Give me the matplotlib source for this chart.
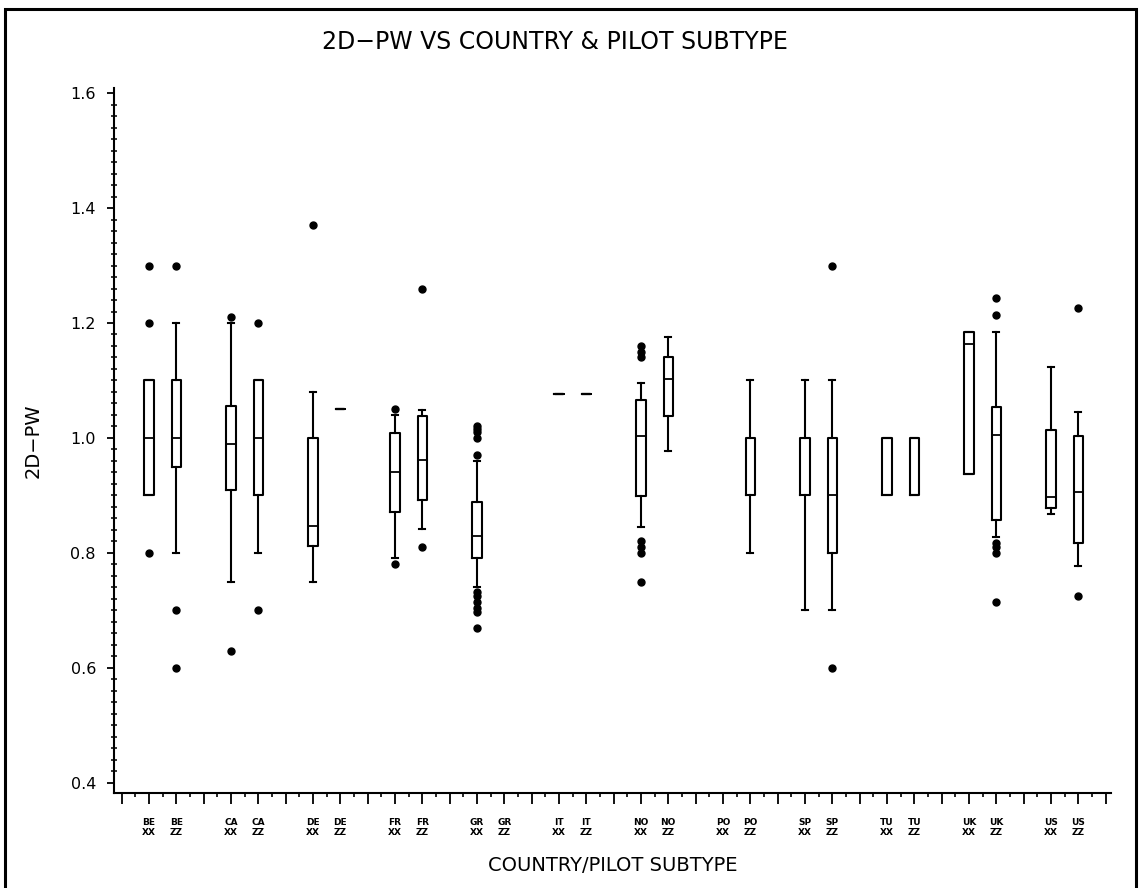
import matplotlib
matplotlib.use('Agg')
import matplotlib.pyplot as plt
from matplotlib.patches import Rectangle

# groups: country x pilot subtype
countries = ['BE', 'CA', 'DE', 'FR', 'GR', 'IT', 'NO', 'PO', 'SP', 'TU', 'UK', 'US']
subtypes = ['XX', 'ZZ']

# box statistics (None = no data for that group), order: BE XX, BE ZZ, CA XX, ...
whislo = [0.90, 0.80, 0.75, 0.80, 0.75, 1.05, 0.792, 0.842, 0.74, None, 1.077, 1.077,
          0.845, 0.978, None, 0.80, 0.70, 0.70, 0.90, 0.90, 0.937, 0.827, 0.867, 0.777]
q1 = [0.90, 0.95, 0.91, 0.90, 0.812, 1.05, 0.871, 0.892, 0.791, None, 1.077, 1.077,
      0.899, 1.038, None, 0.90, 0.90, 0.80, 0.90, 0.90, 0.937, 0.857, 0.878, 0.817]
med = [1.00, 1.00, 0.99, 1.00, 0.847, 1.05, 0.94, 0.961, 0.83, None, 1.077, 1.077,
       1.003, 1.102, None, 0.90, 0.90, 0.90, 0.90, 0.90, 1.163, 1.006, 0.897, 0.906]
q3 = [1.10, 1.10, 1.055, 1.10, 1.00, 1.05, 1.009, 1.038, 0.889, None, 1.077, 1.077,
      1.066, 1.14, None, 1.00, 1.00, 1.00, 1.00, 1.00, 1.185, 1.054, 1.014, 1.004]
whishi = [1.10, 1.20, 1.20, 1.10, 1.08, 1.05, 1.04, 1.049, 0.96, None, 1.077, 1.077,
          1.096, 1.176, None, 1.10, 1.10, 1.10, 1.00, 1.00, 1.185, 1.185, 1.124, 1.045]
fliers = [[1.3, 1.2, 0.8], [1.3, 0.7, 0.6], [1.21, 0.63], [1.2, 0.7], [1.37], [],
          [1.05, 0.78], [1.26, 0.81],
          [1.02, 1.015, 1.01, 1.0, 0.97, 0.733, 0.725, 0.715, 0.705, 0.698, 0.67], None,
          [], [], [1.16, 1.15, 1.14, 0.82, 0.81, 0.80, 0.75], [], None, [],
          [], [1.3, 0.6], [], [], [], [1.244, 1.214, 0.818, 0.81, 0.80, 0.715],
          [], [1.226, 0.726]]

# build stats for bxp, slots: XX at 3k+1, ZZ at 3k+2
stats = []
positions = []
tick_labels = [''] * 37
for k, c in enumerate(countries):
    for j, s in enumerate(subtypes):
        i = 2 * k + j
        slot = 3 * k + 1 + j
        tick_labels[slot] = c + '\n' + s
        if med[i] is None:
            continue
        stats.append(dict(whislo=whislo[i], q1=q1[i], med=med[i], q3=q3[i],
                          whishi=whishi[i], fliers=fliers[i]))
        positions.append(slot)

fig = plt.figure(figsize=(11.39, 8.88), dpi=100)
ax = fig.add_axes([114 / 1139, 1 - 793 / 888, (1111 - 114) / 1139, (793 - 88) / 888])

line = dict(color='black', linewidth=1.5)
ax.bxp(stats, positions=positions, widths=0.34, capwidths=0.22,
       boxprops=line, whiskerprops=line, capprops=line,
       medianprops=dict(color='black', linewidth=1.3),
       flierprops=dict(marker='o', markerfacecolor='black', markeredgecolor='black',
                       markersize=5))

ax.set_xlim(-0.28, 36.2)
ax.set_ylim(0.3826, 1.6087)

ax.set_xticks(range(37))
ax.set_xticklabels(tick_labels, fontsize=6.5, fontweight='bold', linespacing=1.1)
ax.set_xticks([x + 0.5 for x in range(36)], minor=True)
ax.set_yticks([0.4, 0.6, 0.8, 1.0, 1.2, 1.4, 1.6])
ax.set_yticklabels(['0.4', '0.6', '0.8', '1.0', '1.2', '1.4', '1.6'], fontsize=11.5)
ax.set_yticks([0.4 + 0.02 * i for i in range(61)], minor=True)

ax.tick_params(axis='x', which='major', direction='out', length=8, width=1.3, pad=10)
ax.tick_params(axis='x', which='minor', direction='out', length=3, width=1.2)
ax.tick_params(axis='y', which='major', direction='out', length=5, width=1.3, pad=8)
ax.tick_params(axis='y', which='minor', direction='inout', length=4, width=1.1)

for side in ['top', 'right']:
    ax.spines[side].set_visible(False)
for side in ['left', 'bottom']:
    ax.spines[side].set_linewidth(1.5)

ax.set_xlabel('COUNTRY/PILOT SUBTYPE', fontsize=14, labelpad=14)
ax.set_ylabel('2D\u2212PW', fontsize=14, labelpad=20)

fig.text(555 / 1139, 1 - 42 / 888, '2D\u2212PW VS COUNTRY & PILOT SUBTYPE',
         fontsize=17, ha='center', va='center')

# outer frame of the page
fig.patches.append(Rectangle((5 / 1139, -0.01), (1136 - 5) / 1139, 1 - 9 / 888 + 0.01,
                             transform=fig.transFigure, fill=False,
                             edgecolor='black', linewidth=2.2))

fig.savefig('out.png', dpi=100)
